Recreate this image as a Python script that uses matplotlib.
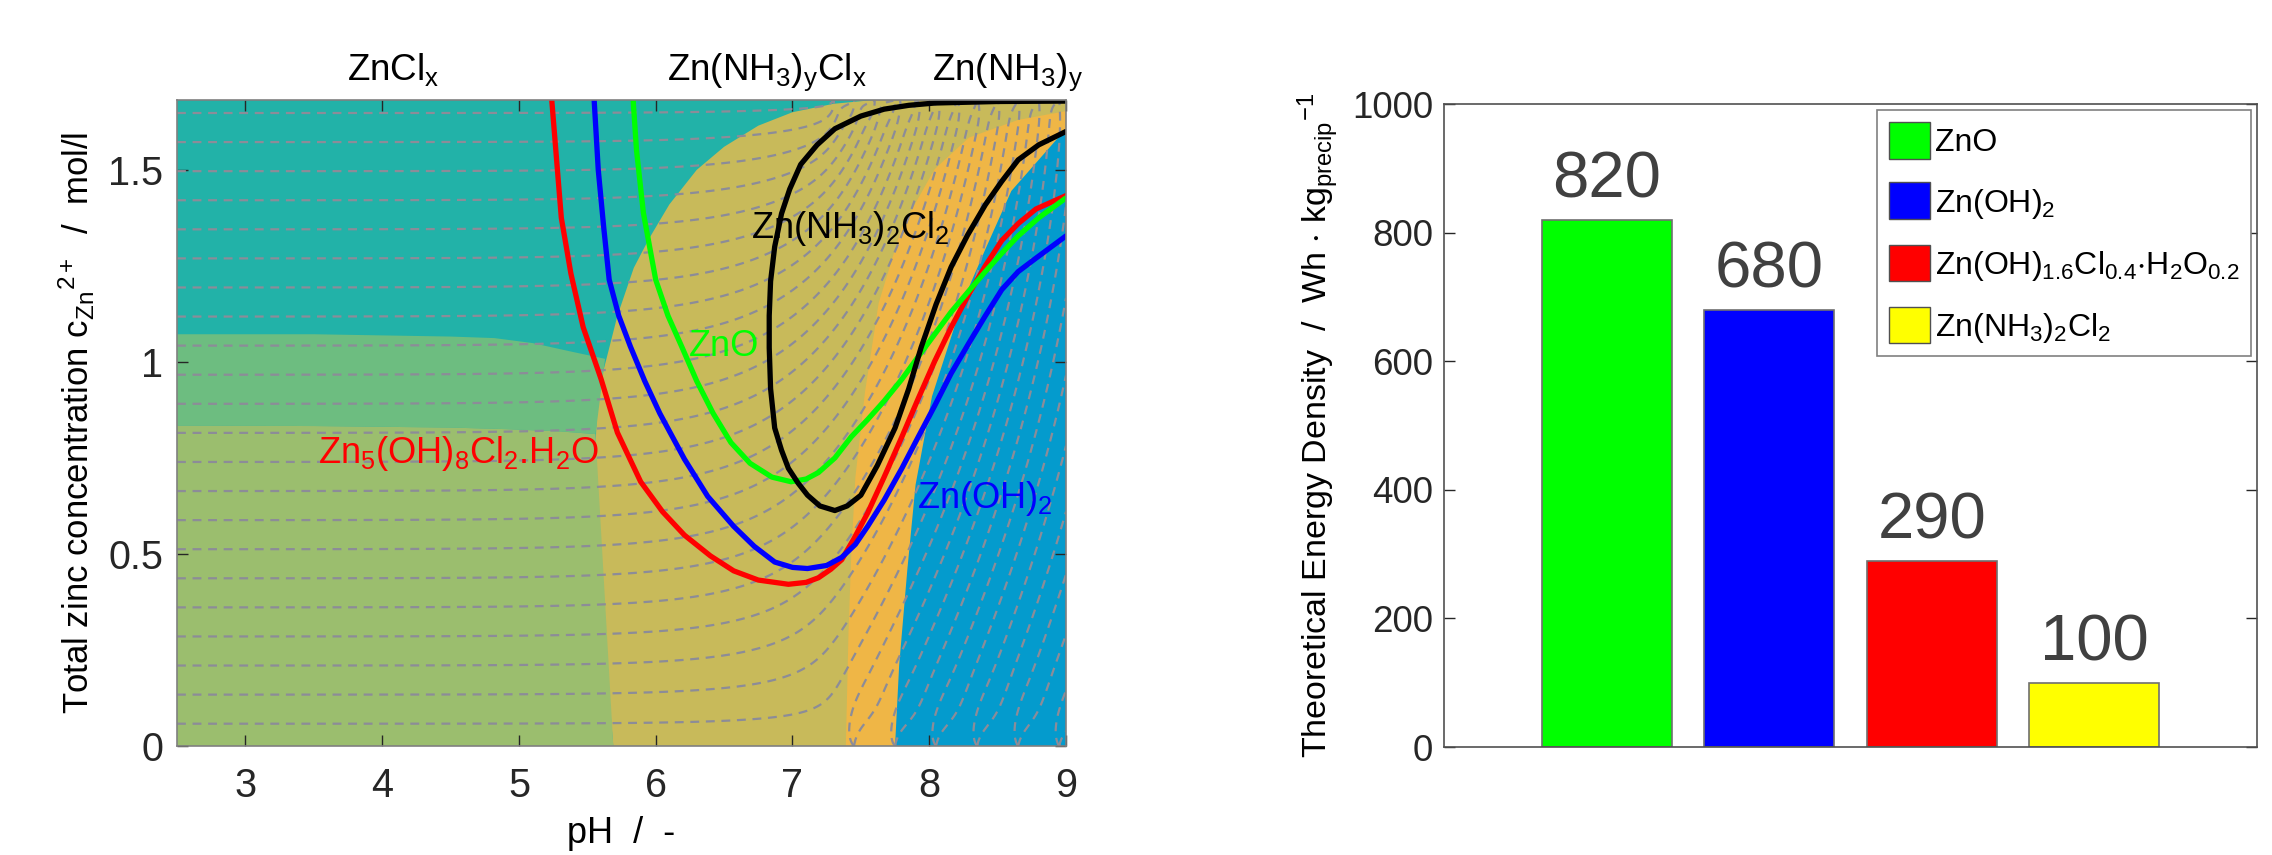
import numpy as np
import matplotlib.pyplot as plt
from matplotlib.patches import Patch

FONT = 'Liberation Sans'
plt.rcParams['font.family'] = [FONT, 'DejaVu Sans']
plt.rcParams['mathtext.fontset'] = 'custom'
plt.rcParams['mathtext.rm'] = FONT
plt.rcParams['mathtext.it'] = FONT + ':italic'
plt.rcParams['mathtext.default'] = 'regular'

# ---------------- left panel data (pH, c) ----------------
ph_lim = (2.5, 9.0)
c_lim = (0.0, 1.682)

teal_green_ph = [2.5, 3.5, 4.5, 4.82, 5.10, 5.38, 5.63]
teal_green_c = [1.072, 1.072, 1.066, 1.062, 1.049, 1.027, 1.008]

green_olive_ph = [2.5, 3.5, 4.5, 4.9, 5.3, 5.56]
green_olive_c = [0.834, 0.833, 0.829, 0.825, 0.819, 0.812]

khaki_left_ph = [5.69, 5.67, 5.62, 5.57, 5.56, 5.57, 5.60, 5.64, 5.72, 5.84, 5.95,
                 6.10, 6.30, 6.50, 6.75, 7.00, 7.30, 7.60]
khaki_left_c = [0.0, 0.085, 0.258, 0.519, 0.78, 0.866, 0.953, 1.008, 1.12, 1.245, 1.32,
                1.41, 1.50, 1.56, 1.615, 1.65, 1.672, 1.682]

orange_left_ph = [7.39, 7.41, 7.43, 7.46, 7.53, 7.63, 7.80, 8.04, 8.29, 8.65, 9.0]
orange_left_c = [0.0, 0.30, 0.50, 0.70, 0.921, 1.153, 1.351, 1.502, 1.584, 1.63, 1.653]

blue_left_ph = [7.75, 7.78, 7.84, 7.90, 8.02, 8.24, 8.41, 8.60, 9.0]
blue_left_c = [0.0, 0.21, 0.46, 0.68, 0.91, 1.153, 1.293, 1.445, 1.607]

red_ph = [5.24, 5.27, 5.31, 5.38, 5.47, 5.60, 5.72, 5.89, 6.05, 6.21, 6.40, 6.57, 6.75,
          6.97, 7.10, 7.19, 7.28, 7.36, 7.45, 7.55, 7.67, 7.80, 7.92, 8.04, 8.16, 8.29,
          8.41, 8.53, 8.65, 8.78, 9.0]
red_c = [1.682, 1.55, 1.375, 1.23, 1.09, 0.956, 0.816, 0.688, 0.61, 0.549, 0.495, 0.456,
         0.432, 0.421, 0.426, 0.438, 0.46, 0.485, 0.54, 0.607, 0.70, 0.805, 0.905, 1.002,
         1.09, 1.177, 1.25, 1.316, 1.36, 1.398, 1.433]

blue_ph = [5.55, 5.58, 5.62, 5.66, 5.73, 5.815, 5.92, 6.03, 6.21, 6.38, 6.57, 6.72, 6.87,
           7.0, 7.11, 7.25, 7.36, 7.46, 7.55, 7.67, 7.80, 7.92, 8.04, 8.16, 8.29, 8.41,
           8.53, 8.65, 8.78, 9.0]
blue_c = [1.682, 1.5, 1.35, 1.214, 1.12, 1.04, 0.95, 0.866, 0.747, 0.65, 0.572, 0.52,
          0.479, 0.465, 0.462, 0.47, 0.491, 0.525, 0.572, 0.64, 0.723, 0.805, 0.886, 0.97,
          1.049, 1.12, 1.188, 1.235, 1.27, 1.328]

green_ph = [5.835, 5.86, 5.91, 6.0, 6.09, 6.19, 6.30, 6.42, 6.55, 6.69, 6.85, 6.99, 7.10,
            7.19, 7.31, 7.43, 7.55, 7.67, 7.80, 7.92, 8.04, 8.16, 8.29, 8.41, 8.53, 8.65,
            8.80, 9.0]
green_c = [1.682, 1.55, 1.388, 1.214, 1.12, 1.04, 0.95, 0.866, 0.79, 0.736, 0.70, 0.688,
           0.695, 0.712, 0.75, 0.805, 0.85, 0.898, 0.955, 1.014, 1.072, 1.13, 1.185, 1.235,
           1.283, 1.328, 1.375, 1.427]

black_ph = [9.0, 8.5, 8.04, 7.85, 7.67, 7.50, 7.31, 7.18, 7.06, 6.98, 6.92, 6.87, 6.84,
            6.83, 6.83, 6.84, 6.87, 6.92, 6.97, 7.04, 7.11, 7.20, 7.31, 7.40, 7.50, 7.62,
            7.75, 7.85, 7.94, 8.05, 8.16, 8.28, 8.41, 8.53, 8.65, 8.80, 9.0]
black_c = [1.679, 1.678, 1.674, 1.668, 1.658, 1.64, 1.607, 1.565, 1.514, 1.45, 1.386, 1.30,
           1.21, 1.12, 1.037, 0.93, 0.828, 0.77, 0.723, 0.685, 0.653, 0.625, 0.613, 0.625,
           0.653, 0.73, 0.828, 0.93, 1.037, 1.15, 1.247, 1.33, 1.409, 1.47, 1.526, 1.565,
           1.60]

# dashed iso-lines: heights read at the left edge; inflow along the bottom and
# outflow along the top (pH position, strength) shape the fan on the right
iso_left_c = [0.058, 0.133, 0.208, 0.286, 0.36, 0.436, 0.515, 0.59, 0.665, 0.74, 0.815,
              0.89, 0.966, 1.04, 1.117, 1.193, 1.27, 1.345, 1.42, 1.495, 1.569, 1.648]
iso_bottom_ph = [7.45, 7.75, 8.05, 8.35, 8.65, 8.95, 9.3, 9.6, 10.0]
iso_bottom_q = [0.15, 0.15, 0.15, 0.15, 0.15, 0.15, 0.15, 0.15, 0.15]
iso_top_ph = [7.3, 7.45, 7.6, 7.75, 7.9, 8.05, 8.2, 8.35, 8.5, 8.65, 8.8, 8.95, 9.2, 9.5,
              9.8, 10.1]
iso_top_q = [0.16, 0.16, 0.16, 0.16, 0.16, 0.16, 0.16, 0.16, 0.16, 0.16, 0.16, 0.16, 0.2,
             0.2, 0.2, 0.2]

# ---------------- right panel data ----------------
bar_names = ['ZnO', 'Zn(OH)$_2$', 'Zn(OH)$_{1.6}$Cl$_{0.4}$$\\cdot$H$_2$O$_{0.2}$',
             'Zn(NH$_3$)$_2$Cl$_2$']
bar_values = [820, 680, 290, 100]
bar_colors = ['#00ff00', '#0000ff', '#ff0000', '#ffff00']

C_TEAL = '#22b2a8'
C_GREEN = '#6dbd80'
C_OLIVE = '#9bbe6e'
C_KHAKI = '#c8ba5a'
C_ORANGE = '#efb646'
C_BLUE = '#049bcd'

fig = plt.figure(figsize=(22.72, 8.55), dpi=100)
ax = fig.add_axes([0.0779, 0.1275, 0.3913, 0.7556])
ax.set_xlim(*ph_lim)
ax.set_ylim(*c_lim)
ax.set_facecolor(C_TEAL)

x0, x1 = ph_lim
y0, y1 = c_lim
ax.fill(khaki_left_ph + [x1, x1], khaki_left_c + [y1, y0], color=C_KHAKI, lw=0, zorder=1)
ax.fill([x0] + teal_green_ph + green_olive_ph[::-1],
        [teal_green_c[0]] + teal_green_c + green_olive_c[::-1], color=C_GREEN, lw=0, zorder=1)
ax.fill([x0] + green_olive_ph + [5.69, x0], [green_olive_c[0]] + green_olive_c + [y0, y0],
        color=C_OLIVE, lw=0, zorder=1)
ax.fill(orange_left_ph + [x1], orange_left_c + [y0], color=C_ORANGE, lw=0, zorder=1)
ax.fill(blue_left_ph + [x1], blue_left_c + [y0], color=C_BLUE, lw=0, zorder=1)

# stream function of a channel (walls at c = 0 and c = top) mapped to a half plane
H = y1


def field(p, c):
    zeta = np.exp(np.pi * (p + 1j * c) / H)
    psi = c.copy()
    for xb, q in zip(iso_bottom_ph, iso_bottom_q):
        psi += q / np.pi * np.angle(zeta - np.exp(np.pi * xb / H))
    for xt, q in zip(iso_top_ph, iso_top_q):
        psi -= q / np.pi * np.angle(zeta + np.exp(np.pi * xt / H))
    return psi


gp, gc = np.meshgrid(np.linspace(x0, x1, 900), np.linspace(y0, y1 * 0.999, 500))
psi = field(gp, gc)
step = np.mean(np.diff(iso_left_c))
base = sum(iso_bottom_q) + iso_left_c[0]
levels = base + step * np.arange(-40, 40)
levels = levels[(levels > psi.min()) & (levels < psi.max())]
ax.contour(gp, gc, psi, levels=levels, colors='#8c8c98', linewidths=1.6,
           linestyles=[(0, (4, 3))], zorder=2)

lw = 3.8
for xs, ys, col, z in [(red_ph, red_c, '#ff0000', 4), (blue_ph, blue_c, '#0000ff', 4),
                       (green_ph, green_c, '#00ff00', 4), (black_ph, black_c, '#000000', 5)]:
    ax.plot(xs, ys, color=col, lw=lw, zorder=z, solid_capstyle='round',
            solid_joinstyle='round')

fs_lab = 26
ax.text(6.24, 1.04, 'ZnO', color='#00ff00', fontsize=fs_lab, va='center', zorder=6)
ax.text(6.70, 1.322, 'Zn(NH$_3$)$_2$Cl$_2$', color='black', fontsize=fs_lab, zorder=6)
ax.text(7.91, 0.619, 'Zn(OH)$_2$', color='#0000ff', fontsize=fs_lab, zorder=6)
ax.text(3.53, 0.737, 'Zn$_5$(OH)$_8$Cl$_2$.H$_2$O', color='#ff0000', fontsize=fs_lab, zorder=6)

tr = ax.get_xaxis_transform()
ax.text(3.74, 1.031, 'ZnCl$_x$', transform=tr, fontsize=26.5)
ax.text(6.08, 1.031, 'Zn(NH$_3$)$_y$Cl$_x$', transform=tr, fontsize=26.5)
ax.text(8.02, 1.031, 'Zn(NH$_3$)$_y$', transform=tr, fontsize=26.5)

ax.set_xticks([3, 4, 5, 6, 7, 8, 9])
ax.set_yticks([0, 0.5, 1, 1.5])
ax.set_yticklabels(['0', '0.5', '1', '1.5'])
ax.tick_params(direction='in', length=8, width=1, labelsize=28.5, top=True, right=True,
               colors='#262626')
ax.tick_params(axis='x', pad=15)
ax.tick_params(axis='y', pad=10)
for s in ax.spines.values():
    s.set_color('#808080')
    s.set_linewidth(1.2)
    s.set_zorder(7)
ax.set_xlabel('pH  /  -', fontsize=26, labelpad=8)
ax.set_ylabel('Total zinc concentration c$_{Zn}$$^{2+}$  /  mol/l', fontsize=25, labelpad=8)

# ---------------- right panel ----------------
bx = fig.add_axes([0.6356, 0.1263, 0.3578, 0.752])
pos = np.arange(1, len(bar_values) + 1)
bx.bar(pos, bar_values, width=0.8, color=bar_colors, edgecolor='#707070', lw=1.2)
for p, v in zip(pos, bar_values):
    bx.text(p, v + 14, str(v), ha='center', va='bottom', fontsize=47, color='#404040')
bx.set_xlim(0, 5)
bx.set_ylim(0, 1000)
bx.set_xticks([])
bx.set_yticks([0, 200, 400, 600, 800, 1000])
bx.tick_params(direction='in', length=8, width=1, labelsize=26.5, right=True,
               colors='#262626', pad=8)
for s in bx.spines.values():
    s.set_color('#505050')
    s.set_linewidth(1.2)
bx.set_ylabel('Theoretical Energy Density  /  Wh $\\cdot$ kg$_{precip}$$^{-1}$',
              fontsize=24.5, labelpad=8)
handles = [Patch(facecolor=c, edgecolor='#505050', lw=1) for c in bar_colors]
leg = bx.legend(handles, bar_names, loc='upper right', fontsize=23, frameon=True,
                fancybox=False, edgecolor='#808080', framealpha=1, borderaxespad=0.2,
                handlelength=1.3, handleheight=1.4, handletextpad=0.15, labelspacing=0.75,
                borderpad=0.35)
leg.get_frame().set_linewidth(1.2)

fig.savefig('out.png', dpi=100)
